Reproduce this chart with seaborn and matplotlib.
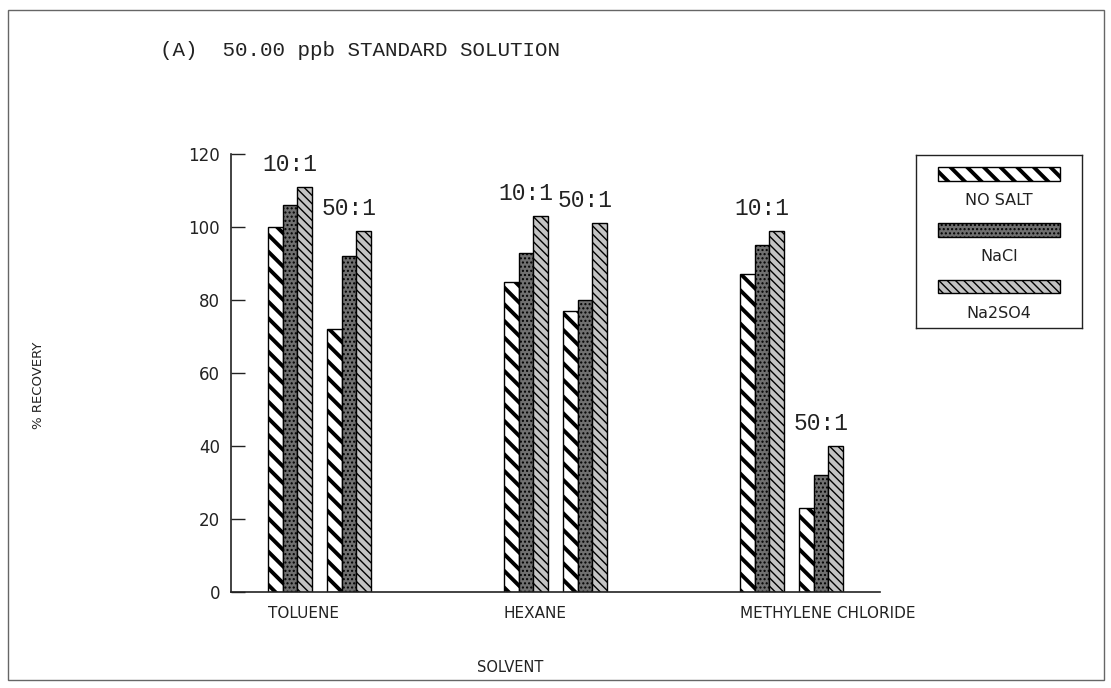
import matplotlib
matplotlib.use("Agg")
import matplotlib.pyplot as plt
import matplotlib.patches as mpatches
import pandas as pd
import seaborn as sns

solvents = ["TOLUENE", "HEXANE", "METHYLENE CHLORIDE"]
ratios = ["10:1", "50:1"]
salts = ["NO SALT", "NaCl", "Na2SO4"]

# % recovery in order: toluene 10:1, toluene 50:1, hexane 10:1, hexane 50:1, ...
no_salt = [100, 72, 85, 77, 87, 23]
nacl = [106, 92, 93, 80, 95, 32]
na2so4 = [111, 99, 103, 101, 99, 40]

yticks = [0, 20, 40, 60, 80, 100, 120]

styles = {
    "NO SALT": dict(face="white", hatch="\\\\", hlw=2.8),
    "NaCl": dict(face="#707070", hatch="....", hlw=1.0),
    "Na2SO4": dict(face="#c4c4c4", hatch="\\\\\\\\", hlw=1.0),
}

groups = [f"{s} {r}" for s in solvents for r in ratios]
rows = []
for salt, vals in zip(salts, [no_salt, nacl, na2so4]):
    for g, v in zip(groups, vals):
        rows.append({"group": g, "salt": salt, "recovery": v})
df = pd.DataFrame(rows)

# two empty slots between solvents give the wide gaps
order = []
for i, s in enumerate(solvents):
    order += [f"{s} {r}" for r in ratios]
    if i < len(solvents) - 1:
        order += [f"{s} gap1", f"{s} gap2"]

sns.set_theme(style="white")
plt.rcParams["font.family"] = ["DejaVu Sans"]
plt.rcParams["hatch.linewidth"] = 1.0

fig = plt.figure(figsize=(11.11, 6.88), dpi=100)
ax = fig.add_axes([231 / 1111, 1 - 592 / 688, 649 / 1111, 438 / 688])

bar_width = 0.76
sns.barplot(data=df, x="group", y="recovery", hue="salt", order=order,
            hue_order=salts, palette={k: v["face"] for k, v in styles.items()},
            width=bar_width, gap=0, dodge=True, edgecolor="black", linewidth=1,
            saturation=1, err_kws={"linewidth": 0}, legend=False, ax=ax)

for cont, salt in zip(ax.containers, salts):
    for bar in cont:
        bar.set_hatch(styles[salt]["hatch"])
        if hasattr(bar, "set_hatch_linewidth"):
            bar.set_hatch_linewidth(styles[salt]["hlw"])

# ratio labels above each group
for g in groups:
    pos = order.index(g)
    top = df.loc[df["group"] == g, "recovery"].max()
    ax.annotate(g.split(" ")[-1], (pos, top), xytext=(0, 8), textcoords="offset points",
                ha="center", va="bottom", family="Liberation Mono", size=16.5, color="#222")

ax.set_xlim(-1, 10)
ax.set_ylim(0, 120)
ax.set_yticks(yticks)
ax.set_yticklabels([str(t) for t in yticks], fontsize=12, color="#222")
ax.tick_params(axis="y", direction="in", length=10, width=1, pad=8, left=True, color="#222")

first = [order.index(f"{s} {ratios[0]}") - bar_width / 2 for s in solvents]
ax.set_xticks(first)
ax.set_xticklabels(solvents, ha="left", fontsize=11, color="#222")
ax.tick_params(axis="x", length=0, pad=10)

ax.set_xlabel("SOLVENT", fontsize=10.5, color="#222")
ax.xaxis.set_label_coords((510 - 231) / 649, -(660 - 592) / 438)
ax.set_ylabel("% RECOVERY", fontsize=9.5, color="#222")
ax.yaxis.set_label_coords(-(231 - 45) / 649, (592 - 385) / 438)

for side in ["top", "right"]:
    ax.spines[side].set_visible(False)
for side in ["left", "bottom"]:
    ax.spines[side].set_color("#222")
    ax.spines[side].set_linewidth(1.2)

# title
fig.text(160 / 1111, 1 - 50 / 688, "(A)  50.00 ppb STANDARD SOLUTION",
         family="Liberation Mono", fontsize=15, va="center", ha="left", color="#222")

# legend box: swatch above its label
lax = fig.add_axes([916 / 1111, 1 - 328 / 688, 166 / 1111, 173 / 688])
lax.set_xlim(0, 1)
lax.set_ylim(0, 1)
lax.set_xticks([])
lax.set_yticks([])
for sp in lax.spines.values():
    sp.set_color("#222")
    sp.set_linewidth(1)
for i, salt in enumerate(salts):
    y0 = 0.85 - i * 0.325
    st = styles[salt]
    r = mpatches.Rectangle((0.13, y0), 0.74, 0.08, facecolor=st["face"],
                           edgecolor="black", linewidth=1, hatch=st["hatch"])
    if hasattr(r, "set_hatch_linewidth"):
        r.set_hatch_linewidth(st["hlw"])
    lax.add_patch(r)
    lax.text(0.5, y0 - 0.07, salt, ha="center", va="top", fontsize=11.5, color="#222")

# outer frame
fig.patches.append(mpatches.Rectangle((8 / 1111, 8 / 688), 1096 / 1111, 670 / 688,
                                      transform=fig.transFigure, fill=False,
                                      edgecolor="#666", linewidth=1))

fig.savefig("out.png", dpi=100)
